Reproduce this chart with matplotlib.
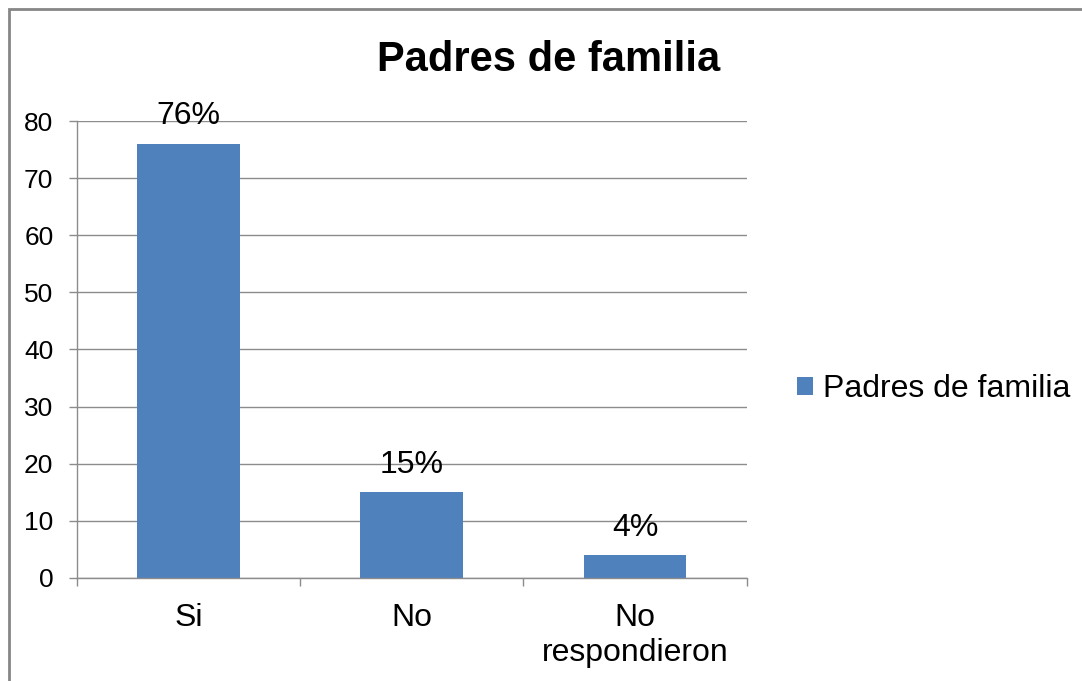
import numpy as np
import matplotlib.pyplot as plt
from matplotlib.patches import Rectangle

# Datos
categorias = ['Si', 'No', 'No\nrespondieron']
valores = [76, 15, 4]
etiquetas = ['76%', '15%', '4%']
serie = 'Padres de familia'

plt.rcParams['font.family'] = ['Liberation Sans', 'DejaVu Sans']

fig = plt.figure(figsize=(10.82, 6.81), dpi=100)
ax = fig.add_axes([0.0712, 0.1513, 0.6188, 0.671])

x = np.arange(len(categorias))
barras = ax.bar(x, valores, width=0.46, color='#4f81bd', label=serie, zorder=3)

for xi, v, t in zip(x, valores, etiquetas):
    ax.annotate(t, (xi, v), xytext=(0, 9), textcoords='offset points',
                ha='center', va='bottom', fontsize=23, zorder=4)

ax.set_xlim(-0.5, len(categorias) - 0.5)
ax.set_ylim(0, 80)
ax.set_yticks(range(0, 81, 10))
ax.tick_params(axis='y', labelsize=19, length=6, color='#8c8c8c', width=1, pad=11)
ax.set_xticks(x)
ax.set_xticklabels(categorias, fontsize=23, linespacing=1.2)
ax.tick_params(axis='x', length=0, pad=18)
ax.set_xticks(np.arange(-0.5, len(categorias)), minor=True)
ax.tick_params(axis='x', which='minor', length=6, color='#8c8c8c', width=1)

ax.yaxis.grid(True, color='#8c8c8c', linewidth=1, zorder=0)
for s in ['top', 'right']:
    ax.spines[s].set_visible(False)
for s in ['left', 'bottom']:
    ax.spines[s].set_color('#8c8c8c')
    ax.spines[s].set_linewidth(1)
    ax.spines[s].set_zorder(5)

fig.text(0.507, 0.912, serie, ha='center', va='center', fontsize=30, fontweight='bold')

fig.legend(handles=[barras], labels=[serie], loc='center left',
           bbox_to_anchor=(0.71, 1 - 389 / 681), frameon=False, fontsize=23,
           handlelength=0.5, handleheight=0.5, handletextpad=0.3)

# Marco del gráfico
fig.patches.append(Rectangle((8.5 / 1082, -0.1), 1.2, 1.1 - 9 / 681, transform=fig.transFigure,
                             fill=False, edgecolor='#868686', linewidth=2))

fig.savefig('out.png', dpi=100)
